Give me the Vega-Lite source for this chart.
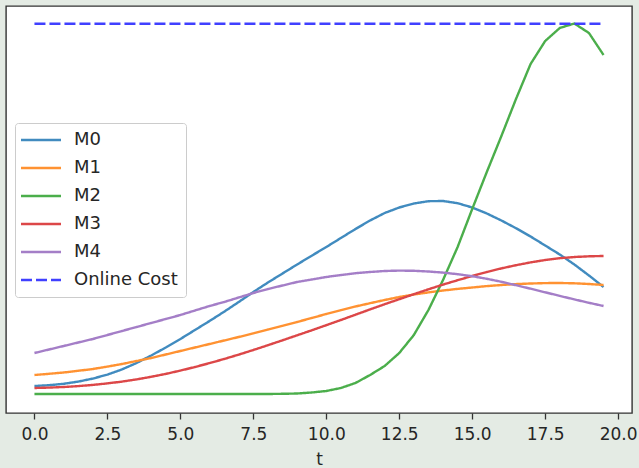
{
  "$schema": "https://vega.github.io/schema/vega-lite/v6.json",
  "width": 626,
  "height": 407,
  "autosize": {"type": "none"},
  "padding": {"left": 6, "top": 6, "right": 7, "bottom": 55},
  "background": "#e4ebe4",
  "config": {
    "view": {"fill": "white", "stroke": "#333333", "strokeWidth": 1.4},
    "font": "DejaVu Sans",
    "axis": {"labelFont": "DejaVu Sans", "titleFont": "DejaVu Sans", "grid": false}
  },
  "data": {
    "values": [
      {"t": 0, "M0": 8, "M1": 19, "M2": 0, "M3": 6, "M4": 41, "Online Cost": 370.3},
      {"t": 0.5, "M0": 8.8, "M1": 20.2, "M2": 0, "M3": 6.4, "M4": 44.5, "Online Cost": 370.3},
      {"t": 1, "M0": 10.2, "M1": 21.5, "M2": 0, "M3": 7, "M4": 48, "Online Cost": 370.3},
      {"t": 1.5, "M0": 12.4, "M1": 23.2, "M2": 0, "M3": 7.9, "M4": 51.5, "Online Cost": 370.3},
      {"t": 2, "M0": 15.4, "M1": 25, "M2": 0, "M3": 9.1, "M4": 55, "Online Cost": 370.3},
      {"t": 2.5, "M0": 19.4, "M1": 27.4, "M2": 0, "M3": 10.6, "M4": 59, "Online Cost": 370.3},
      {"t": 3, "M0": 24.6, "M1": 30, "M2": 0, "M3": 12.4, "M4": 63, "Online Cost": 370.3},
      {"t": 3.5, "M0": 31, "M1": 33, "M2": 0, "M3": 14.6, "M4": 67, "Online Cost": 370.3},
      {"t": 4, "M0": 38.5, "M1": 36, "M2": 0, "M3": 17.2, "M4": 71, "Online Cost": 370.3},
      {"t": 4.5, "M0": 46.5, "M1": 39.5, "M2": 0, "M3": 20.1, "M4": 75, "Online Cost": 370.3},
      {"t": 5, "M0": 55, "M1": 43, "M2": 0, "M3": 23.4, "M4": 79, "Online Cost": 370.3},
      {"t": 5.5, "M0": 64, "M1": 46.5, "M2": 0, "M3": 27, "M4": 83.5, "Online Cost": 370.3},
      {"t": 6, "M0": 73, "M1": 50, "M2": 0, "M3": 30.9, "M4": 88, "Online Cost": 370.3},
      {"t": 6.5, "M0": 82.3, "M1": 53.5, "M2": 0, "M3": 35, "M4": 92, "Online Cost": 370.3},
      {"t": 7, "M0": 92, "M1": 57, "M2": 0, "M3": 39.4, "M4": 96.5, "Online Cost": 370.3},
      {"t": 7.5, "M0": 102, "M1": 60.7, "M2": 0, "M3": 44, "M4": 101, "Online Cost": 370.3},
      {"t": 8, "M0": 111.5, "M1": 64.5, "M2": 0, "M3": 48.8, "M4": 105, "Online Cost": 370.3},
      {"t": 8.5, "M0": 120.5, "M1": 68.2, "M2": 0.2, "M3": 53.7, "M4": 108.5, "Online Cost": 370.3},
      {"t": 9, "M0": 129.5, "M1": 72, "M2": 0.5, "M3": 58.7, "M4": 112, "Online Cost": 370.3},
      {"t": 9.5, "M0": 138.3, "M1": 76, "M2": 1.5, "M3": 63.7, "M4": 114.5, "Online Cost": 370.3},
      {"t": 10, "M0": 147, "M1": 80, "M2": 3, "M3": 68.8, "M4": 117, "Online Cost": 370.3},
      {"t": 10.5, "M0": 156, "M1": 83.8, "M2": 6, "M3": 74, "M4": 119, "Online Cost": 370.3},
      {"t": 11, "M0": 165, "M1": 87.5, "M2": 11, "M3": 79.3, "M4": 120.8, "Online Cost": 370.3},
      {"t": 11.5, "M0": 173.5, "M1": 90.8, "M2": 19, "M3": 84.6, "M4": 122, "Online Cost": 370.3},
      {"t": 12, "M0": 181, "M1": 94, "M2": 28, "M3": 89.8, "M4": 123, "Online Cost": 370.3},
      {"t": 12.5, "M0": 186.5, "M1": 97, "M2": 41, "M3": 94.8, "M4": 123.4, "Online Cost": 370.3},
      {"t": 13, "M0": 190.5, "M1": 99.5, "M2": 59, "M3": 99.8, "M4": 123.2, "Online Cost": 370.3},
      {"t": 13.5, "M0": 192.8, "M1": 101.6, "M2": 84, "M3": 104.7, "M4": 122.5, "Online Cost": 370.3},
      {"t": 14, "M0": 193, "M1": 103.5, "M2": 114, "M3": 109.4, "M4": 121.4, "Online Cost": 370.3},
      {"t": 14.5, "M0": 190.8, "M1": 105.1, "M2": 147, "M3": 113.8, "M4": 119.8, "Online Cost": 370.3},
      {"t": 15, "M0": 186.5, "M1": 106.5, "M2": 185, "M3": 118, "M4": 117.8, "Online Cost": 370.3},
      {"t": 15.5, "M0": 180.5, "M1": 107.9, "M2": 222, "M3": 122, "M4": 115.2, "Online Cost": 370.3},
      {"t": 16, "M0": 173.5, "M1": 109, "M2": 258, "M3": 125.6, "M4": 112.2, "Online Cost": 370.3},
      {"t": 16.5, "M0": 165.8, "M1": 109.9, "M2": 295, "M3": 128.8, "M4": 108.8, "Online Cost": 370.3},
      {"t": 17, "M0": 157.5, "M1": 110.5, "M2": 330, "M3": 131.6, "M4": 105.3, "Online Cost": 370.3},
      {"t": 17.5, "M0": 148.5, "M1": 110.9, "M2": 353, "M3": 134, "M4": 101.7, "Online Cost": 370.3},
      {"t": 18, "M0": 139.5, "M1": 111, "M2": 366, "M3": 135.8, "M4": 98.1, "Online Cost": 370.3},
      {"t": 18.5, "M0": 129.5, "M1": 110.7, "M2": 370.5, "M3": 137, "M4": 94.6, "Online Cost": 370.3},
      {"t": 19, "M0": 118.5, "M1": 110, "M2": 361, "M3": 137.7, "M4": 91.2, "Online Cost": 370.3},
      {"t": 19.5, "M0": 107, "M1": 109, "M2": 339, "M3": 138, "M4": 88, "Online Cost": 370.3}
    ]
  },
  "transform": [
    {"fold": ["M0", "M1", "M2", "M3", "M4", "Online Cost"], "as": ["series", "v"]}
  ],
  "mark": {"type": "line", "clip": true},
  "encoding": {
    "x": {
      "field": "t",
      "type": "quantitative",
      "scale": {"domain": [-0.975, 20.475], "nice": false, "zero": false},
      "axis": {
        "title": "t",
        "values": [0, 2.5, 5, 7.5, 10, 12.5, 15, 17.5, 20],
        "format": ".1f",
        "domain": false,
        "tickColor": "#333333",
        "tickSize": 6,
        "tickWidth": 1.3,
        "labelFontSize": 17,
        "labelColor": "#262626",
        "labelPadding": 7,
        "titleFontSize": 17,
        "titleFontWeight": "normal",
        "titleColor": "#262626",
        "titlePadding": 9
      }
    },
    "y": {
      "field": "v",
      "type": "quantitative",
      "scale": {"domain": [-19, 388], "nice": false, "zero": false},
      "axis": null
    },
    "color": {
      "field": "series",
      "type": "nominal",
      "scale": {
        "domain": ["M0", "M1", "M2", "M3", "M4", "Online Cost"],
        "range": ["#418bbf", "#ff9232", "#4bae4b", "#dc4748", "#a47ec7", "#4040ff"]
      },
      "legend": {
        "orient": "none",
        "legendX": 9,
        "legendY": 117,
        "title": null,
        "symbolType": "M-4,0H4",
        "symbolSize": 100,
        "labelFontSize": 18,
        "labelFont": "DejaVu Sans",
        "labelColor": "#262626",
        "padding": 8,
        "rowPadding": 10,
        "fillColor": "white",
        "strokeColor": "#cccccc",
        "cornerRadius": 3,
        "symbolOffset": 9,
        "labelOffset": 24
      }
    },
    "strokeDash": {
      "field": "series",
      "type": "nominal",
      "scale": {
        "domain": ["M0", "M1", "M2", "M3", "M4", "Online Cost"],
        "range": [[1, 0], [1, 0], [1, 0], [1, 0], [1, 0], [11, 4]]
      }
    },
    "strokeWidth": {
      "field": "series",
      "type": "nominal",
      "scale": {
        "domain": ["M0", "M1", "M2", "M3", "M4", "Online Cost"],
        "range": [2.4, 2.4, 2.4, 2.4, 2.4, 2.8]
      }
    }
  }
}
